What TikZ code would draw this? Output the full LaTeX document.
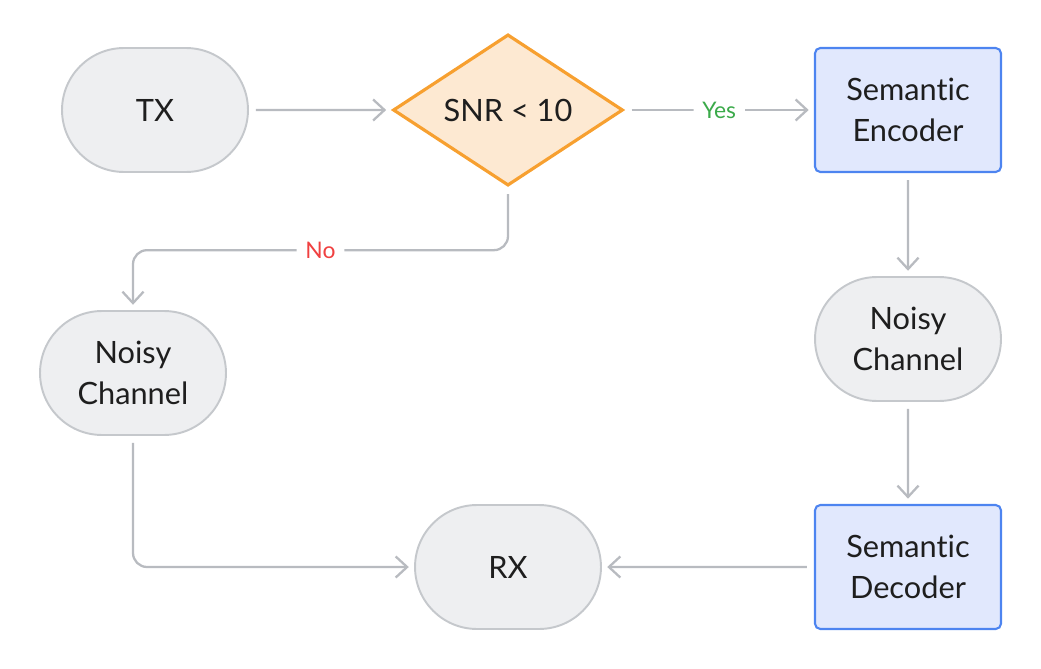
\documentclass[tikz,border=0pt]{standalone}
\usepackage{fontspec}
\setmainfont{Lato}[Ligatures={NoCommon}]
\usepackage{xcolor}
\usepackage{tikz}
\usetikzlibrary{positioning, shapes.geometric, shapes.misc, arrows.meta}
\definecolor{linec}{RGB}{184,187,192}
\definecolor{greyfill}{RGB}{238,239,241}
\definecolor{greyline}{RGB}{197,200,204}
\definecolor{decfill}{RGB}{253,233,210}
\definecolor{decline}{RGB}{247,160,48}
\definecolor{semfill}{RGB}{225,232,253}
\definecolor{semline}{RGB}{77,132,240}
\definecolor{yesc}{RGB}{59,170,74}
\definecolor{noc}{RGB}{240,64,64}
\definecolor{txtc}{RGB}{30,30,30}

\begin{document}
\begin{tikzpicture}[x=0.02cm, y=-0.02cm,
  font=\fontsize{17.5}{23}\selectfont, text=txtc,
  term/.style={rounded rectangle, draw=greyline, fill=greyfill, line width=1.1pt,
               minimum width=3.72cm, minimum height=2.48cm, inner sep=0pt, align=center},
  sem/.style={rectangle, rounded corners=3pt, draw=semline, fill=semfill, line width=1.2pt,
              minimum width=3.72cm, minimum height=2.48cm, inner sep=0pt, align=center},
  check/.style={diamond, draw=decline, fill=decfill, line width=1.8pt,
                minimum width=4.6cm, minimum height=2.84cm, inner sep=0pt},
  flow/.style={draw=linec, line width=1.3pt, rounded corners=8pt,
               -{Straight Barb[length=6.5pt, width=12pt]}, shorten <=4pt, shorten >=3pt},
  lab/.style={fill=white, font=\fontsize{13}{15}\selectfont, inner sep=5pt}]

% page: same size as the reference, one unit = one pixel
\useasboundingbox (0,0) rectangle (1041,669);

%% ── nodes ────────────────────────────────────────────────────────
\node[term]  (tx)  at (155,110) {TX};
\node[check] (snr) at (508,110) {SNR < 10};
\node[sem]   (enc) at (908,110) {Semantic\\Encoder};
\node[term]  (chr) at (908,339) {Noisy\\Channel};
\node[sem]   (dec) at (908,567) {Semantic\\Decoder};
\node[term]  (rx)  at (508,567) {RX};
\node[term]  (chl) at (133,373) {Noisy\\Channel};

%% ── main chain ───────────────────────────────────────────────────
\draw[flow] (tx) -- (snr);
\draw[flow] (snr) -- node[lab, text=yesc] {Yes} (enc);
\foreach \a/\b in {enc/chr, chr/dec, dec/rx}{
  \draw[flow] (\a) -- (\b);
}

%% ── fallback branch ──────────────────────────────────────────────
\draw[flow] (snr.south) -- ++(0,63) -| node[lab, text=noc, pos=0.25] {No} (chl.north);
\draw[flow] (chl.south) |- (rx.west);

\end{tikzpicture}
\end{document}
